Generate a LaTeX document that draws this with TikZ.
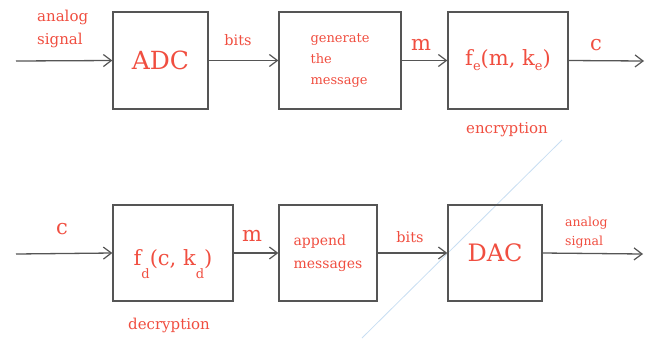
\documentclass[tikz,border=0pt]{standalone}
\usepackage{fontspec}
\setmainfont{DejaVu Serif}
\usetikzlibrary{arrows.meta}
\definecolor{txtred}{RGB}{240,78,64}
\definecolor{linegray}{RGB}{85,85,85}
\definecolor{wmblue}{RGB}{200,222,242}
\newcommand{\fs}[2]{\fontsize{#1}{#2}\selectfont}
\newcommand{\lowsub}[2]{\raisebox{#1}{\fs{13}{13}#2}}
\tikzset{
  blk/.style={draw=linegray, line width=1.3pt, inner sep=0pt, text=txtred},
  arr/.style={draw=linegray, line width=1.3pt, -{Straight Barb[length=8pt,width=12pt,line width=1.2pt]}},
  lbl/.style={text=txtred, inner sep=0pt}
}
\begin{document}
\begin{tikzpicture}[x=1pt,y=-1pt]
\useasboundingbox (0,0) rectangle (652,338);
% watermark line
\coordinate (wa) at (362,338);
\coordinate (wb) at (562,140);
\draw[wmblue, line width=0.8pt] (wa) -- (wb);
% top row
\node[blk, minimum width=95pt, minimum height=97pt] (adc) at (160.5,60.5) {\fs{25}{25}ADC};
\node[blk, minimum width=122pt, minimum height=97pt, align=left, font=\fs{13}{21}] (gen) at (340,60.5) {generate\\the\\message};
\node[blk, minimum width=120pt, minimum height=97pt] (enc) at (508,60.5) {\fs{21}{21}f\lowsub{-5pt}{e}(m, k\lowsub{-5pt}{e})};
\coordinate (in1) at (16,61);
\coordinate (out1) at (644,61);
\draw[arr] (in1) -- (adc.west);
\draw[arr] (adc.east) -- (gen.west);
\draw[arr] (gen.east) -- (enc.west);
\draw[arr] (enc.east) -- (out1);
\node[lbl, align=left, anchor=west, font=\fs{15}{23}] (l1) at (37,29) {analog\\signal};
\node[lbl, font=\fs{14.5}{14.5}] (l2) at (238,40) {bits};
\node[lbl, font=\fs{21}{21}] (l3) at (421,45) {m};
\node[lbl, font=\fs{21}{21}] (l4) at (596,45) {c};
\node[lbl, font=\fs{15}{15}] (l5) at (507,130) {encryption};
% bottom row
\node[blk, minimum width=120pt, minimum height=96pt, text height=24pt, text depth=0pt] (dec) at (173,253) {\fs{21}{21}f\lowsub{-13pt}{d}(c, k\lowsub{-13pt}{d})};
\node[blk, minimum width=98pt, minimum height=96pt, align=left, font=\fs{14}{23}] (app) at (328,253) {append\\messages};
\node[blk, minimum width=94pt, minimum height=96pt] (dac) at (495,253) {\fs{24}{24}DAC};
\coordinate (in2) at (16,254);
\coordinate (out2) at (643,254);
\draw[arr] (in2) -- (dec.west);
\draw[arr] (dec.east) -- (app.west);
\draw[arr] (app.east) -- (dac.west);
\draw[arr] (dac.east) -- (out2);
\node[lbl, font=\fs{21}{21}] (l6) at (62,229) {c};
\node[lbl, font=\fs{21}{21}] (l7) at (252,236) {m};
\node[lbl, font=\fs{14.5}{14.5}] (l8) at (410,237) {bits};
\node[lbl, align=left, anchor=west, font=\fs{12.5}{19}] (l9) at (565,233) {analog\\signal};
\node[lbl, font=\fs{15}{15}] (l10) at (169,325) {decryption};
\end{tikzpicture}
\end{document}
